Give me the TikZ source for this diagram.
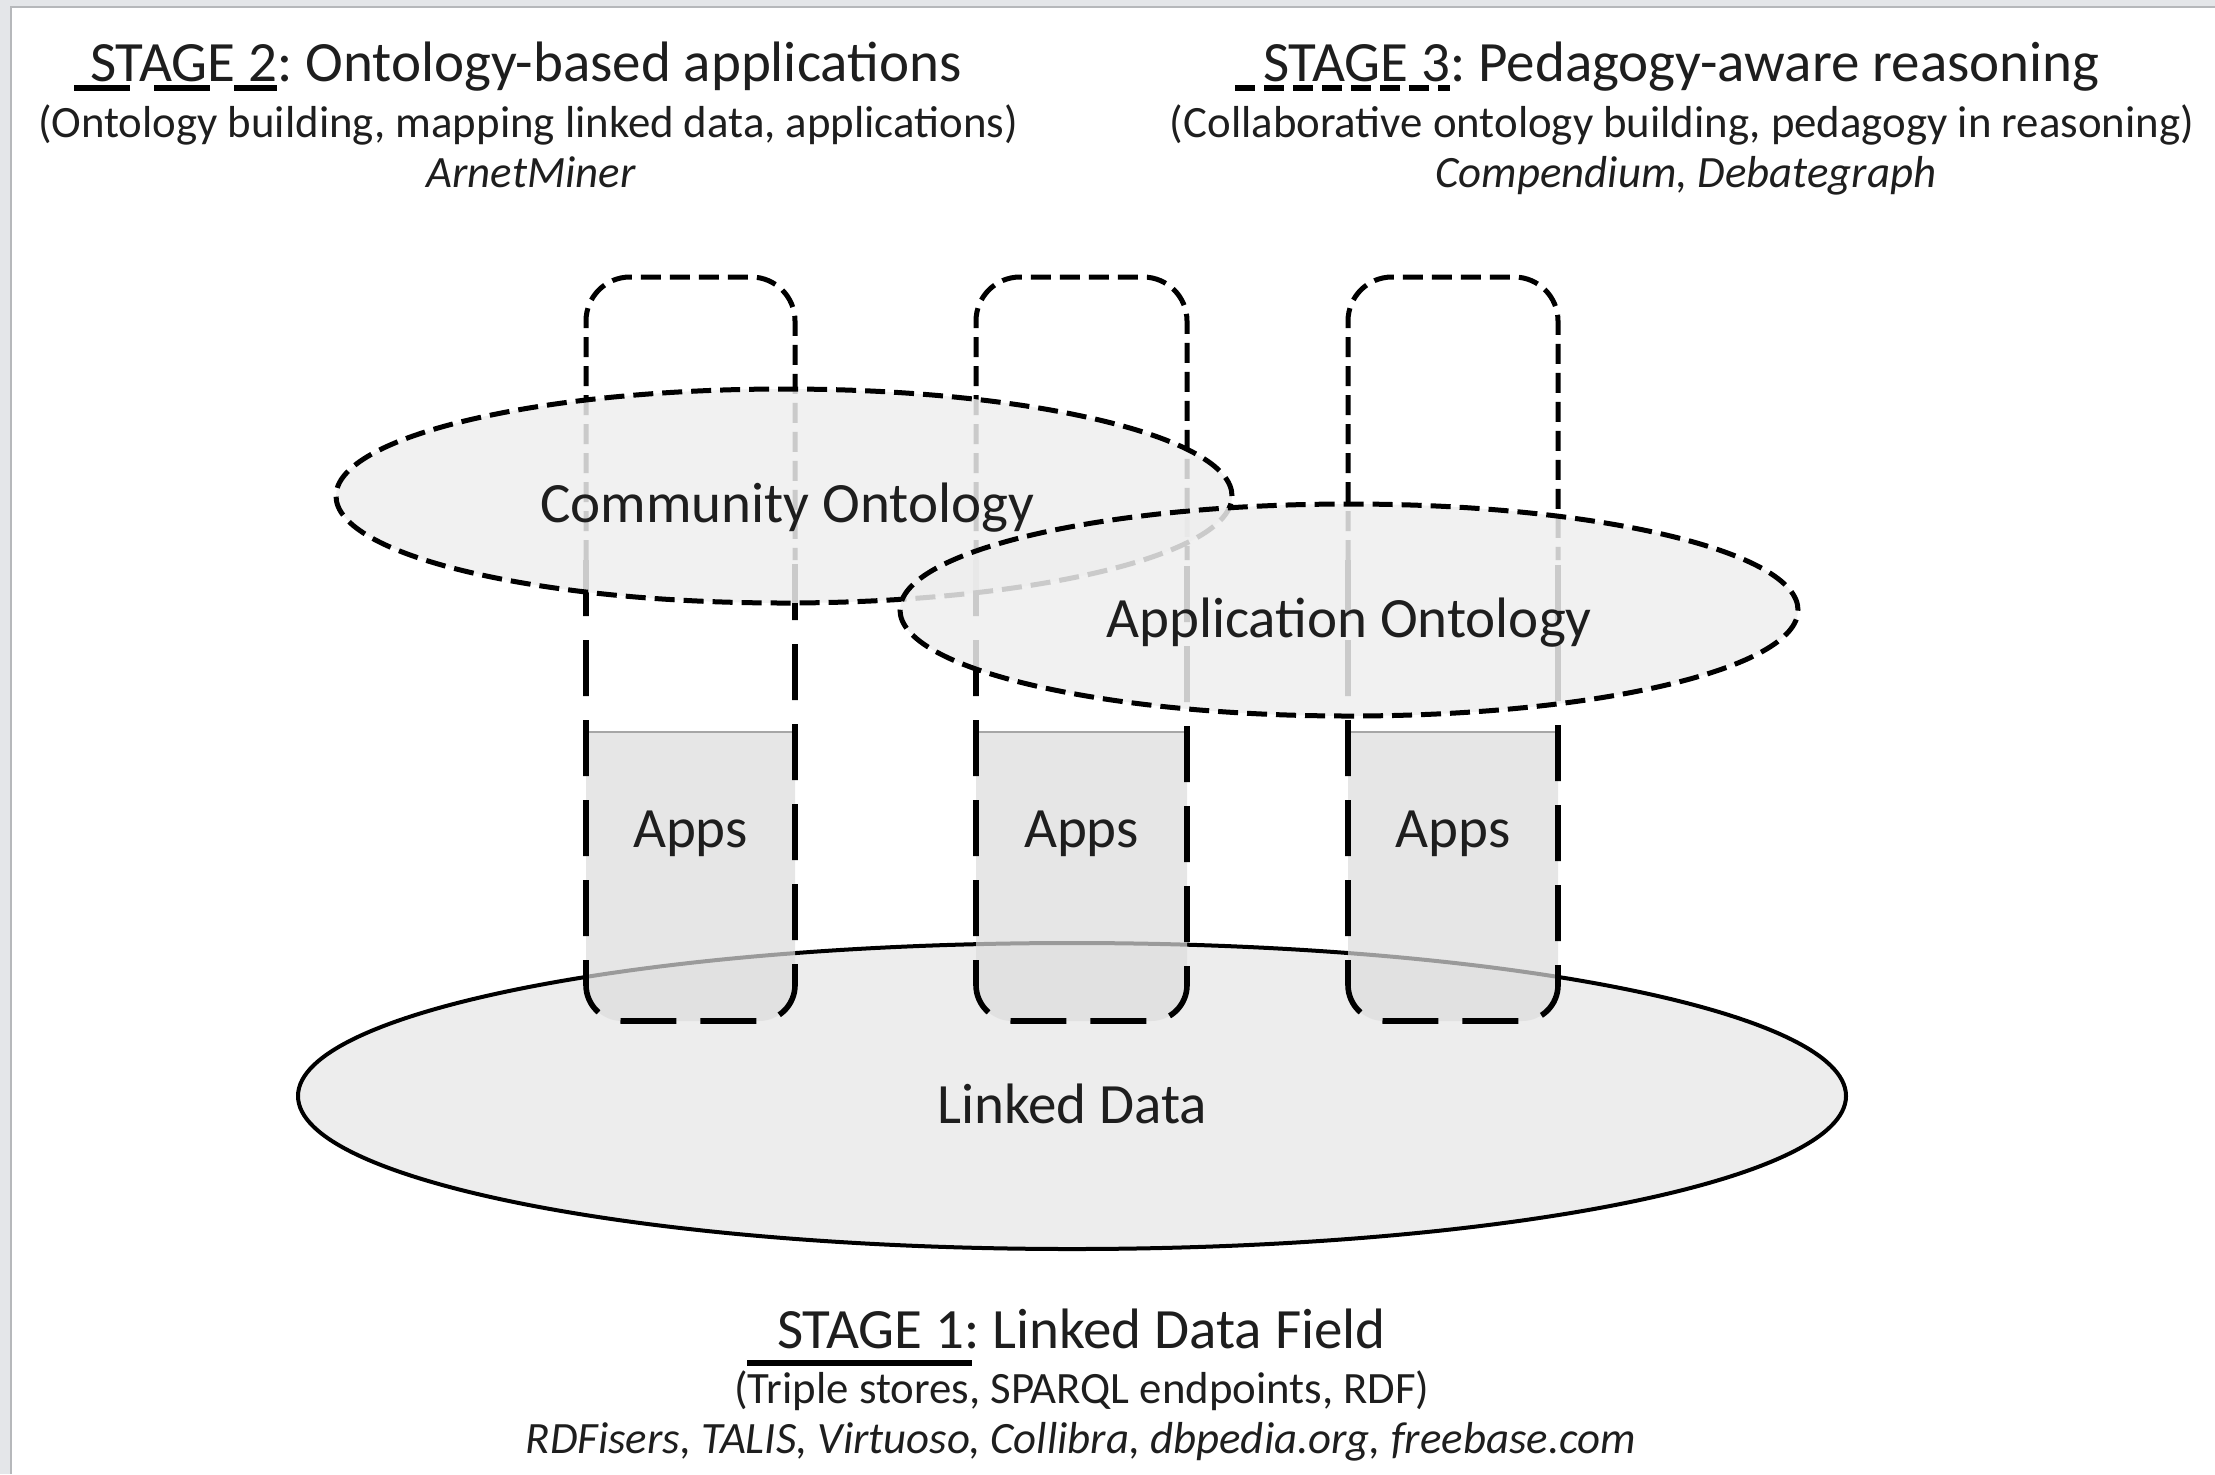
\documentclass[tikz,border=0pt]{standalone}
\usepackage{fontspec}
\setmainfont{Carlito}
\frenchspacing
\usetikzlibrary{shapes.geometric}
\definecolor{txt}{HTML}{1E1E1E}
\definecolor{ontofill}{HTML}{EEEEEE}
\definecolor{ldfill}{HTML}{EDEDED}
\definecolor{pilfill}{HTML}{DCDCDC}
\definecolor{framefill}{HTML}{E4E6E9}
\definecolor{frameline}{HTML}{B6B8BB}
\begin{document}
\begin{tikzpicture}[x=0.5pt,y=-0.5pt,
  shortdash/.style={line width=2.5pt, dash pattern=on 10pt off 4.5pt},
  longdash/.style={line width=2.8pt, dash pattern=on 28pt off 12pt},
  onto/.style={ellipse, draw=black, shortdash, fill=ontofill, fill opacity=0.85, draw opacity=1, text opacity=1, inner sep=0pt},
  bigtxt/.style={font=\fontsize{28.5}{34}\selectfont, text=txt, inner sep=0pt, outer sep=0pt},
  subtxt/.style={font=\fontsize{22.4}{26}\selectfont, text=txt, inner sep=0pt},
  ittxt/.style={font=\fontsize{22.4}{26}\selectfont\itshape, text=txt, inner sep=0pt}]
\useasboundingbox (0,0) rectangle (2215,1474);
% slide frame
\fill[framefill] (0,0) rectangle (2215,7);
\fill[framefill] (0,0) rectangle (11,1474);
\draw[frameline, line width=0.6pt] (11,1474) -- (11,7) -- (2215,7);
% Linked data field
\node[ellipse, draw=black, line width=2pt, fill=ldfill, minimum width=774pt, minimum height=153pt, inner sep=0pt] (ld) at (1072,1096) {};
% pillars
\foreach \L/\R/\n in {586/795/1, 976/1187/2, 1348/1558/3}{
  \begin{scope}
    \clip (\L-5,732) rectangle (\R+5,1035);
    \fill[pilfill, fill opacity=0.7, rounded corners=18pt] (\L,277) rectangle (\R,1021);
  \end{scope}
  \draw[gray!70, line width=1pt] (\L,732) -- (\R,732);
  \draw[shortdash, rounded corners=22pt] (\L,560) -- (\L,277) -- (\R,277) -- (\R,560);
  \draw[longdash, rounded corners=18pt] (\L,560) -- (\L,1021) -- (\R,1021) -- (\R,560);
  \node[bigtxt, anchor=base] (apps\n) at ({(\L+\R)/2},847) {Apps};
}
% ontologies
\node[onto, minimum width=448pt, minimum height=107pt] (co) at (784,496) {};
\node[onto, minimum width=449pt, minimum height=106pt] (ao) at (1349,610) {};
\node[bigtxt, anchor=base] (cot) at (787,522) {Community Ontology};
\node[bigtxt, anchor=base] (aot) at (1349,637) {Application Ontology};
\node[bigtxt, anchor=base] (ldt) at (1072,1123) {Linked Data};
% stage 2
\node[bigtxt, anchor=base west] (s2) at (90,81) {STAGE 2};
\node[bigtxt, anchor=base west] (t2) at (s2.base east) {: Ontology-based applications};
\draw[longdash, line width=3pt] ([xshift=-8pt,yshift=-3.5pt]s2.base west) -- ([yshift=-3.5pt]s2.base east);
\node[subtxt, anchor=base] (u2) at (528,137) {(Ontology building, mapping linked data, applications)};
\node[ittxt, anchor=base] (i2) at (531,187) {ArnetMiner};
% stage 3
\node[bigtxt, anchor=base west] (s3) at (1263,81) {STAGE 3};
\node[bigtxt, anchor=base west] (t3) at (s3.base east) {: Pedagogy-aware reasoning};
\draw[shortdash, line width=3pt] ([xshift=-14pt,yshift=-3.5pt]s3.base west) -- ([yshift=-3.5pt]s3.base east);
\node[subtxt, anchor=base] (u3) at (1682,137) {(Collaborative ontology building, pedagogy in reasoning)};
\node[ittxt, anchor=base] (i3) at (1686,187) {Compendium, Debategraph};
% stage 1
\node[bigtxt, anchor=base west] (s1) at (777,1348) {STAGE 1};
\node[bigtxt, anchor=base west] (t1) at (s1.base east) {: Linked Data Field};
\draw[line width=3pt] ([xshift=-15pt,yshift=-7.5pt]s1.base west) -- ([xshift=4pt,yshift=-7.5pt]s1.base east);
\node[subtxt, anchor=base] (u1) at (1082,1403) {(Triple stores, SPARQL endpoints, RDF)};
\node[ittxt, anchor=base] (i1) at (1081,1453) {RDFisers, TALIS, Virtuoso, Collibra, dbpedia.org, freebase.com};
\end{tikzpicture}
\end{document}
